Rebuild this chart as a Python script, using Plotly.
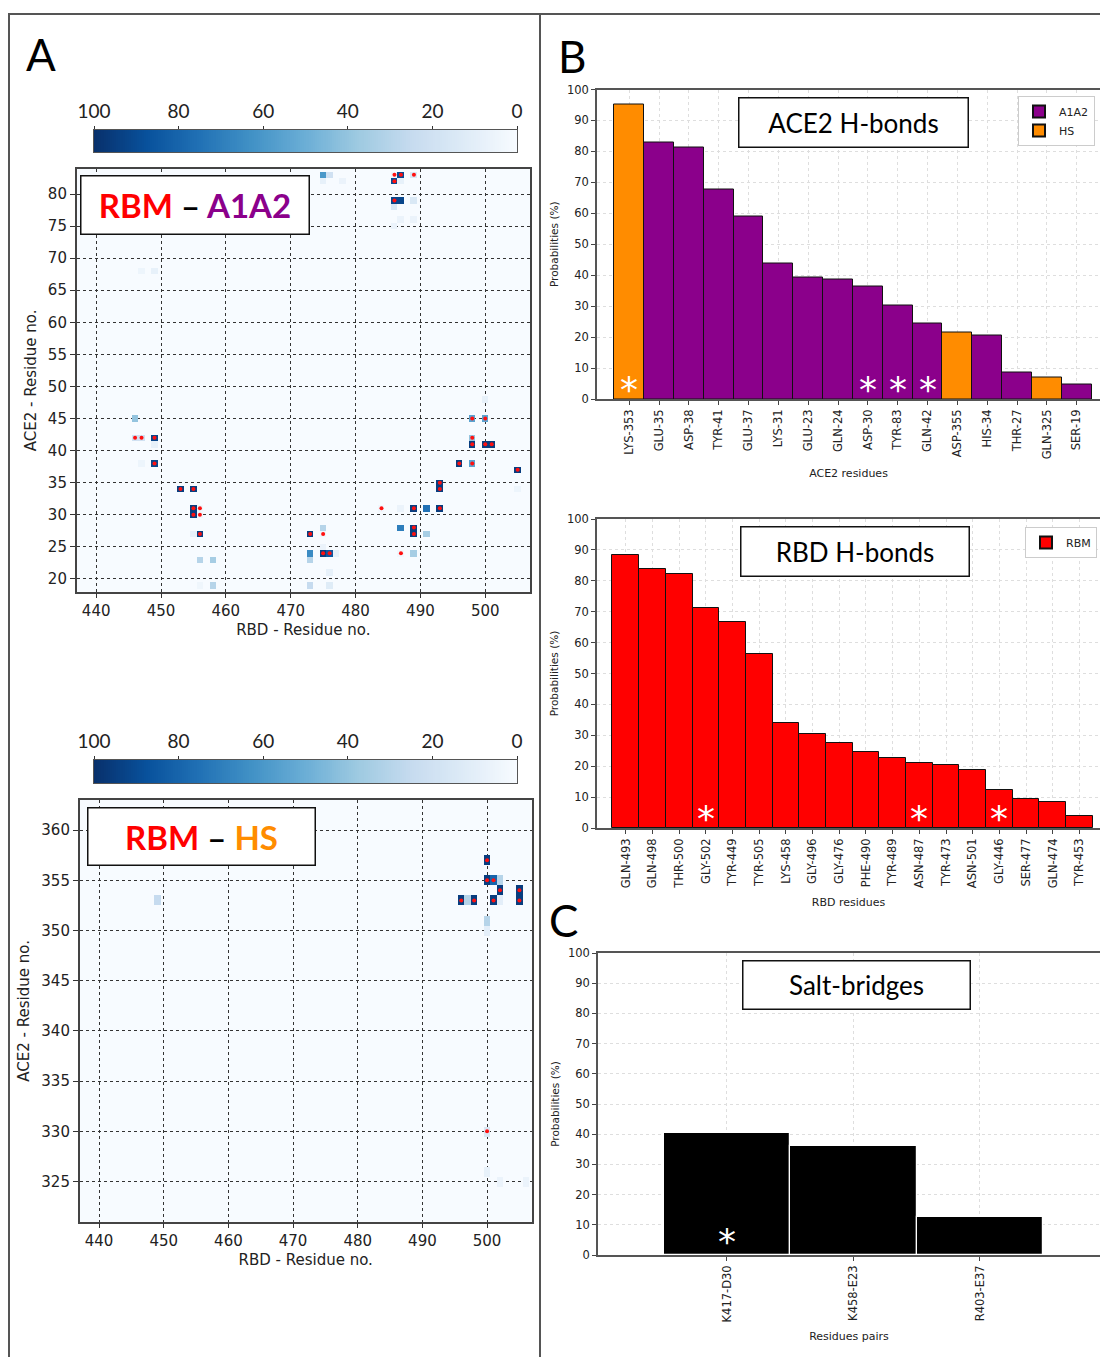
import numpy as np
import plotly.graph_objects as go

# ---------------------------------------------------------------- data
# Contact map RBM - A1A2: RBD residue, ACE2 residue, contact probability (%)
a1a2_rbd = [475, 476, 475, 478, 486, 487, 486, 487, 489, 486, 487, 486, 489, 487, 489, 486,
            447, 449, 446, 446, 447, 449, 449, 449, 447, 453, 455, 455, 455, 456, 456, 456,
            455, 456, 458, 458, 456, 473, 475, 475, 473, 473, 475, 476, 477, 473, 476, 476,
            475, 484, 487, 487, 487, 489, 491, 493, 489, 489, 491, 489, 493, 493, 496, 498,
            498, 498, 498, 500, 500, 501, 500, 505, 505]
a1a2_ace2 = [83, 83, 82, 82, 83, 83, 82, 82, 83, 79, 79, 78, 79, 76, 76, 75,
             68, 68, 45, 42, 42, 42, 41, 38, 38, 34, 34, 31, 30, 31, 30, 27,
             27, 23, 23, 19, 19, 27, 28, 27, 24, 23, 24, 24, 24, 19, 21, 19,
             25, 31, 31, 28, 24, 31, 31, 31, 28, 27, 27, 24, 35, 34, 38, 38,
             45, 42, 41, 45, 41, 41, 48, 37, 34]
a1a2_prob = [60, 20, 8, 6, 5, 90, 90, 8, 15, 92, 92, 15, 15, 6, 6, 6,
             5, 8, 40, 20, 20, 92, 8, 92, 5, 95, 95, 95, 95, 4, 4, 95,
             8, 30, 35, 30, 4, 95, 30, 4, 65, 30, 95, 85, 8, 25, 8, 12,
             6, 3, 6, 70, 3, 95, 75, 95, 95, 95, 35, 35, 95, 95, 95, 55,
             55, 40, 95, 55, 95, 95, 8, 95, 5]
# H-bonded pairs (red dots)
a1a2_hb_rbd = [486, 487, 486, 489, 486, 446, 447, 449, 449, 453, 455, 455, 455, 456, 456, 456,
               473, 475, 475, 476, 484, 487, 489, 493, 489, 489, 493, 493, 496, 498, 498, 498,
               498, 500, 500, 501, 505]
a1a2_hb_ace2 = [83, 83, 82, 83, 79, 42, 42, 42, 38, 34, 34, 31, 30, 31, 30, 27,
                27, 27, 24, 24, 31, 24, 31, 31, 28, 27, 35, 34, 38, 38, 45, 42,
                41, 45, 41, 41, 37]

# Contact map RBM - HS
hs_rbd = [500, 500, 501, 502, 502, 496, 497, 498, 501, 502, 505, 505, 500, 500, 449, 500, 500, 502, 506]
hs_ace2 = [357, 355, 355, 355, 354, 353, 353, 353, 353, 353, 354, 353, 351, 350, 353, 330, 326, 325, 325]
hs_prob = [95, 95, 80, 30, 95, 95, 30, 95, 95, 10, 95, 95, 30, 10, 25, 15, 8, 6, 6]
hs_hb_rbd = [500, 500, 501, 502, 496, 498, 501, 505, 505, 500]
hs_hb_ace2 = [357, 355, 355, 354, 353, 353, 353, 354, 353, 330]

colorbar_ticks = [0, 20, 40, 60, 80, 100]

# ACE2 H-bonds
ace2_residues = ["LYS-353", "GLU-35", "ASP-38", "TYR-41", "GLU-37", "LYS-31", "GLU-23", "GLN-24",
                 "ASP-30", "TYR-83", "GLN-42", "ASP-355", "HIS-34", "THR-27", "GLN-325", "SER-19"]
ace2_prob = [95.1, 82.9, 81.2, 67.7, 58.9, 43.8, 39.4, 38.6, 36.4, 30.2, 24.3, 21.4, 20.6, 8.6, 7.0, 4.7]
ace2_region = ["HS", "A1A2", "A1A2", "A1A2", "A1A2", "A1A2", "A1A2", "A1A2",
               "A1A2", "A1A2", "A1A2", "HS", "A1A2", "A1A2", "HS", "A1A2"]
ace2_starred = ["LYS-353", "ASP-30", "TYR-83", "GLN-42"]

# RBD H-bonds
rbd_residues = ["GLN-493", "GLN-498", "THR-500", "GLY-502", "TYR-449", "TYR-505", "LYS-458", "GLY-496",
                "GLY-476", "PHE-490", "TYR-489", "ASN-487", "TYR-473", "ASN-501", "GLY-446", "SER-477",
                "GLN-474", "TYR-453"]
rbd_prob = [88.3, 83.9, 82.1, 71.1, 66.6, 56.2, 34.0, 30.3, 27.6, 24.7, 22.6, 21.0, 20.3, 18.9,
            12.4, 9.4, 8.4, 3.9]
rbd_starred = ["GLY-502", "ASN-487", "GLY-446"]

# Salt bridges
salt_pairs = ["K417-D30", "K458-E23", "R403-E37"]
salt_prob = [40.5, 36.0, 12.5]
salt_starred = ["K417-D30"]

# ---------------------------------------------------------------- helpers
W, H = 1100, 1357


def fx(px):
    return px / W


def fy(py):
    return 1 - py / H


BLUES = [[0.0, "#f7fbff"], [0.125, "#deebf7"], [0.25, "#c6dbef"], [0.375, "#9ecae1"],
         [0.5, "#6baed6"], [0.625, "#4292c6"], [0.75, "#2171b5"], [0.875, "#08519c"],
         [1.0, "#08306b"]]
REGION_COLORS = {"A1A2": "#8b008b", "HS": "#ff8c00"}

TICK_FONT = dict(family="DejaVu Sans", size=15, color="#222")
SMALL_FONT = dict(family="DejaVu Sans", size=11.5, color="#222")
LABEL_FONT = dict(family="Lato", size=19, color="#222")
RBD_AXIS = np.arange(437, 508)


def contact_matrix(rbd, ace2, prob, ace2_axis):
    z = np.full((len(ace2_axis), len(RBD_AXIS)), np.nan)
    for r, a, p in zip(rbd, ace2, prob):
        z[a - ace2_axis[0], r - RBD_AXIS[0]] = p
    return z


fig = go.Figure()

# ---------------------------------------------------------------- contact maps
maps = [
    ("x", "y", a1a2_rbd, a1a2_ace2, a1a2_prob, a1a2_hb_rbd, a1a2_hb_ace2, np.arange(18, 85)),
    ("x3", "y3", hs_rbd, hs_ace2, hs_prob, hs_hb_rbd, hs_hb_ace2, np.arange(321, 364)),
]
for xa, ya, rbd, ace2, prob, hb_r, hb_a, ace2_axis in maps:
    fig.add_trace(go.Heatmap(x=RBD_AXIS, y=ace2_axis, z=contact_matrix(rbd, ace2, prob, ace2_axis),
                             colorscale=BLUES, zmin=0, zmax=100, showscale=False,
                             hoverongaps=False, xaxis=xa, yaxis=ya))
    fig.add_trace(go.Scatter(x=hb_r, y=hb_a, mode="markers", showlegend=False,
                             marker=dict(color="#ff1010", size=4, line=dict(width=0)),
                             xaxis=xa, yaxis=ya))

# colour strips (reversed 100 -> 0)
strip = np.linspace(0, 100, 201)
for xa, ya in (("x2", "y2"), ("x4", "y4")):
    fig.add_trace(go.Heatmap(x=strip, y=[0], z=[strip], colorscale=BLUES, zmin=0, zmax=100,
                             showscale=False, xaxis=xa, yaxis=ya, hoverinfo="skip"))

# ---------------------------------------------------------------- bar charts
for region in ("A1A2", "HS"):
    xs = [r for r, g in zip(ace2_residues, ace2_region) if g == region]
    ys = [p for p, g in zip(ace2_prob, ace2_region) if g == region]
    fig.add_trace(go.Bar(x=xs, y=ys, name=region, width=1,
                         marker=dict(color=REGION_COLORS[region], line=dict(color="#111", width=1)),
                         xaxis="x5", yaxis="y5", legend="legend"))

fig.add_trace(go.Bar(x=rbd_residues, y=rbd_prob, name="RBM", width=1,
                     marker=dict(color="#ff0000", line=dict(color="#111", width=1)),
                     xaxis="x6", yaxis="y6", legend="legend2"))

fig.add_trace(go.Bar(x=salt_pairs, y=salt_prob, width=1, showlegend=False,
                     marker=dict(color="#000000", line=dict(color="#ffffff", width=1.2)),
                     xaxis="x7", yaxis="y7"))


# ---------------------------------------------------------------- axes
def map_xaxis(x0, x1, anchor):
    return dict(domain=[fx(x0), fx(x1)], anchor=anchor, range=[437, 506.9], automargin=False,
                tick0=440, dtick=10, ticks="outside", ticklen=5, tickcolor="#333",
                showline=True, mirror=True, linecolor="#444", linewidth=1.5,
                showgrid=True, gridcolor="#333", griddash="dot", gridwidth=1.3,
                zeroline=False, tickfont=TICK_FONT,
                title=dict(text="RBD - Residue no.", font=TICK_FONT, standoff=5))


def map_yaxis(y0, y1, anchor, rng, dtick):
    return dict(domain=[fy(y1), fy(y0)], anchor=anchor, range=rng, dtick=dtick, automargin=False,
                ticks="outside", ticklen=5, tickcolor="#333",
                showline=True, mirror=True, linecolor="#444", linewidth=1.5,
                showgrid=True, gridcolor="#333", griddash="dot", gridwidth=1.3,
                zeroline=False, tickfont=TICK_FONT,
                title=dict(text="ACE2 - Residue no.", font=TICK_FONT, standoff=8))


def strip_xaxis(x0, x1, anchor):
    return dict(domain=[fx(x0), fx(x1)], anchor=anchor, range=[100, 0], side="top", automargin=False,
                tickvals=colorbar_ticks, ticks="outside", ticklen=3, tickcolor="#333",
                showline=True, mirror=True, linecolor="#555", linewidth=1.2,
                showgrid=False, zeroline=False, tickfont=LABEL_FONT)


def strip_yaxis(y0, y1, anchor):
    return dict(domain=[fy(y1), fy(y0)], anchor=anchor, range=[-0.5, 0.5], automargin=False,
                showticklabels=False, ticks="", showline=True, mirror=True,
                linecolor="#555", linewidth=1.2, showgrid=False, zeroline=False)


def bar_xaxis(x0, anchor, cats, rng, title):
    return dict(domain=[fx(x0), 1.0], anchor=anchor, type="category", automargin=False,
                categoryorder="array", categoryarray=cats, range=rng,
                tickangle=-90, ticks="outside", ticklen=4, tickcolor="#444",
                showline=True, mirror=True, linecolor="#555", linewidth=1.5,
                showgrid=True, gridcolor="#dedede", griddash="dot", gridwidth=1,
                zeroline=False, tickfont=SMALL_FONT,
                title=dict(text=title, font=dict(family="DejaVu Sans", size=11, color="#222"),
                           standoff=11))


def bar_yaxis(y0, y1, anchor):
    return dict(domain=[fy(y1), fy(y0)], anchor=anchor, range=[0, 100], dtick=10, automargin=False,
                ticks="outside", ticklen=4, tickcolor="#444",
                showline=True, mirror=False, linecolor="#555", linewidth=1.5,
                showgrid=True, gridcolor="#dedede", griddash="dot", gridwidth=1,
                zeroline=False, tickfont=SMALL_FONT,
                title=dict(text="Probabilities (%)",
                           font=dict(family="DejaVu Sans", size=10.5, color="#222"), standoff=6))


layout_axes = dict(
    xaxis=map_xaxis(76.7, 530, "y"),
    yaxis=map_yaxis(169, 591.7, "x", [18.0, 83.9], 5),
    xaxis2=strip_xaxis(94, 517, "y2"),
    yaxis2=strip_yaxis(130, 152, "x2"),
    xaxis3=map_xaxis(79.7, 531.7, "y3"),
    yaxis3=map_yaxis(800, 1221.7, "x3", [321.0, 363.0], 5),
    xaxis4=strip_xaxis(94, 517, "y4"),
    yaxis4=strip_yaxis(760, 783, "x4"),
    xaxis5=bar_xaxis(597, "y5", ace2_residues, [-1.08, 15.78], "ACE2 residues"),
    yaxis5=bar_yaxis(89.5, 399, "x5"),
    xaxis6=bar_xaxis(597, "y6", rbd_residues, [-1.08, 17.77], "RBD residues"),
    yaxis6=bar_yaxis(519, 828, "x6"),
    xaxis7=bar_xaxis(598, "y7", salt_pairs, [-1.02, 2.95], "Residues pairs"),
    yaxis7=bar_yaxis(953, 1255, "x7"),
)

# ---------------------------------------------------------------- annotations
annotations = []


def boxed(text, cx, cy, w, h, size):
    return dict(text=text, x=fx(cx), y=fy(cy), xref="paper", yref="paper",
                xanchor="center", yanchor="middle", showarrow=False,
                width=w, height=h, borderpad=0, bgcolor="white",
                bordercolor="#111", borderwidth=1.5,
                font=dict(family="Lato", size=size, color="black"))


annotations.append(boxed('<b><span style="color:#ff0000">RBM</span> – '
                         '<span style="color:#8b008b">A1A2</span></b>', 195, 205, 227, 57, 33))
annotations.append(boxed('<b><span style="color:#ff0000">RBM</span> – '
                         '<span style="color:#ff8c00">HS</span></b>', 201.5, 836.5, 226, 56, 33))
annotations.append(boxed("ACE2 H-bonds", 853.5, 122.5, 228, 48, 26))
annotations.append(boxed("RBD H-bonds", 855, 551.5, 227, 48, 26))
annotations.append(boxed("Salt-bridges", 856.5, 985, 226, 47, 26))

for letter, cx, cy in (("A", 41, 54), ("B", 572, 56), ("C", 563, 920)):
    annotations.append(dict(text=letter, x=fx(cx), y=fy(cy), xref="paper", yref="paper",
                            xanchor="center", yanchor="middle", showarrow=False,
                            font=dict(family="Lato", size=44, color="black")))

STAR_FONT = dict(family="DejaVu Sans", size=36, color="white")
for cats, xa, ya, ystar in ((ace2_starred, "x5", "y5", 3.0), (rbd_starred, "x6", "y6", 3.0),
                            (salt_starred, "x7", "y7", 4.5)):
    for c in cats:
        annotations.append(dict(text="*", x=c, y=ystar, xref=xa, yref=ya, xanchor="center",
                                yanchor="middle", showarrow=False, font=STAR_FONT))

# ---------------------------------------------------------------- shapes
shapes = []
for xa, ya in (("x", "y"), ("x3", "y3")):
    shapes.append(dict(type="rect", xref=f"{xa} domain", yref=f"{ya} domain",
                       x0=0, x1=1, y0=0, y1=1, fillcolor="#f7fbff", line=dict(width=0),
                       layer="below"))
FRAME = dict(color="#555", width=2)
shapes.append(dict(type="line", xref="paper", yref="paper", x0=fx(8), x1=1, y0=fy(14), y1=fy(14), line=FRAME))
shapes.append(dict(type="line", xref="paper", yref="paper", x0=fx(9), x1=fx(9), y0=fy(14), y1=0, line=FRAME))
shapes.append(dict(type="line", xref="paper", yref="paper", x0=fx(540), x1=fx(540), y0=fy(14), y1=0, line=FRAME))

LEGEND_STYLE = dict(bgcolor="white", bordercolor="#cccccc", borderwidth=1,
                    font=dict(family="DejaVu Sans", size=11, color="#222"),
                    xanchor="left", yanchor="top", itemsizing="constant", tracegroupgap=0)

fig.update_layout(
    width=W, height=H, margin=dict(l=0, r=0, t=0, b=0, autoexpand=False),
    paper_bgcolor="white", plot_bgcolor="white",
    barmode="overlay", bargap=0,
    showlegend=True,
    legend=dict(x=fx(1018), y=fy(96), **LEGEND_STYLE),
    legend2=dict(x=fx(1025), y=fy(527), **LEGEND_STYLE),
    annotations=annotations, shapes=shapes,
    **layout_axes,
)
for tr in fig.data:
    if not isinstance(tr, go.Bar) or tr.xaxis == "x7":
        tr.showlegend = False

fig.write_html("out.html")
